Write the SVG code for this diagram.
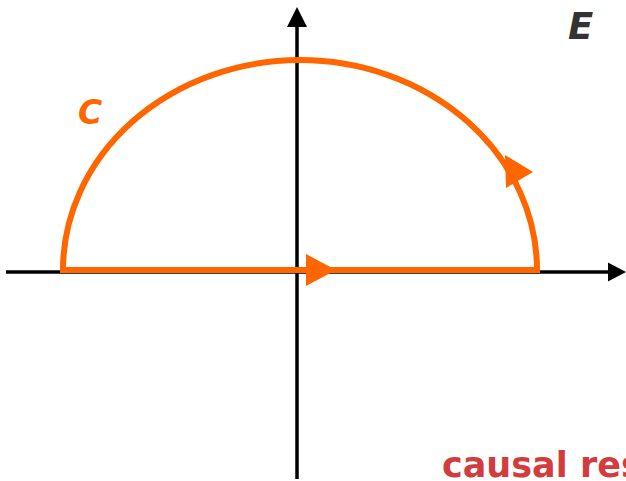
<svg xmlns="http://www.w3.org/2000/svg" width="626" height="481" viewBox="0 0 626 481">
  <style>
    .axis { stroke: #000; stroke-width: 3.5; fill: none; }
    .head { fill: #000; }
    .contour { stroke: #FF6600; stroke-width: 6; fill: none; stroke-linejoin: miter; }
    .ohead { fill: #FF6600; }
    .lbl { font-family: "DejaVu Sans", "Liberation Sans", sans-serif; font-weight: bold; }
  </style>
  <rect width="626" height="481" fill="#fff"/>
  <g id="axes">
    <line class="axis" x1="6" y1="272" x2="610" y2="272"/>
    <polygon class="head" points="608,262.5 626,272 608,281.5"/>
    <line class="axis" x1="297" y1="479" x2="297" y2="25"/>
    <polygon class="head" points="287,27 297,7 307,27"/>
  </g>
  <g id="contour">
    <path class="contour" d="M 63 270 L 537 270 A 237 210 0 0 0 63 270 Z"/>
    <polygon class="ohead" points="306,254 336,270 306,286"/>
    <polygon class="ohead" points="505,155 533,172 506,188"/>
  </g>
  <g id="labels">
    <text class="lbl" x="78" y="124" font-size="33" font-style="italic" fill="#FF6600">C</text>
    <text class="lbl" x="568" y="39" font-size="37" font-style="italic" fill="#333333">E</text>
    <text class="lbl" x="442" y="477" font-size="35" fill="#D23C3C">causal res</text>
  </g>
</svg>
